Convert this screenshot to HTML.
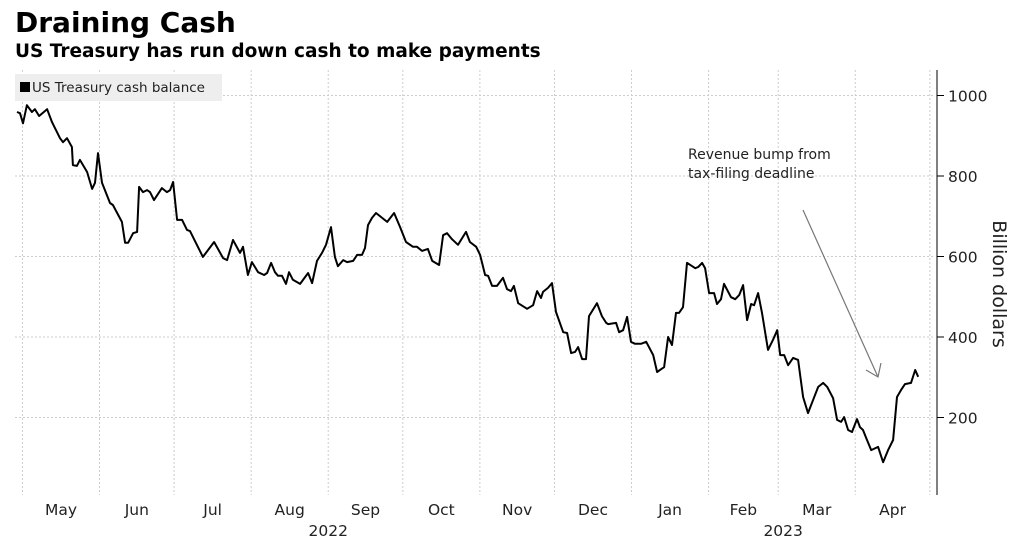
<!DOCTYPE html>
<html><head><meta charset="utf-8"><style>
body{margin:0;background:#fff;width:1024px;height:541px;overflow:hidden;font-family:"DejaVu Sans",sans-serif}
text{font-family:"DejaVu Sans",sans-serif}
</style></head><body>
<svg width="1024" height="541">
<text x="15" y="32" font-size="28" font-weight="bold" fill="#000">Draining Cash</text>
<text x="15" y="57" font-size="18.5" font-weight="bold" fill="#000">US Treasury has run down cash to make payments</text>
<g id="grid"></g>
<rect x="15" y="74" width="207" height="27" fill="#eeeeee"/>
<rect x="20" y="82" width="10" height="10" fill="#000"/>
<text x="32" y="92" font-size="13.5" fill="#222">US Treasury cash balance</text>
<g id="marks"></g>
<g id="axes"></g>
<text x="688" y="159" font-size="14" fill="#222">Revenue bump from</text>
<text x="688" y="178" font-size="14" fill="#222">tax-filing deadline</text>
<line x1="803" y1="210" x2="878" y2="377" stroke="#777" stroke-width="1.2"/>
<polyline points="866,370 878,377 881,363" fill="none" stroke="#777" stroke-width="1.2"/>
<text transform="translate(993,284) rotate(90)" font-size="19" text-anchor="middle" fill="#222">Billion dollars</text>
</svg>
<script>
const days=[-2.2,-1.0,0.2,1.8,3.8,5.0,6.7,9.9,11.9,15.1,16.3,17.9,19.9,20.3,21.9,23.1,26.0,28.0,29.2,30.4,32.0,35.2,36.4,40.0,41.3,42.5,44.5,46.1,46.9,48.5,50.1,51.3,52.9,56.1,58.1,59.4,60.6,62.2,64.2,66.2,67.4,72.6,77.1,80.7,82.3,84.7,87.5,88.7,90.7,92.3,94.8,97.2,98.4,100.0,101.6,102.8,104.4,106.0,107.2,108.8,111.7,114.9,116.5,118.5,120.5,122.1,124.1,125.7,126.9,129.0,130.6,133.0,134.6,136.6,137.8,139.0,140.6,142.2,146.7,149.5,151.9,154.3,157.1,158.7,160.7,163.1,164.8,167.6,169.2,170.8,172.8,175.2,178.4,180.0,182.5,184.1,186.1,187.3,188.9,190.9,193.3,194.9,196.5,197.7,199.4,203.0,205.4,207.0,208.6,209.4,211.4,213.0,214.6,217.5,219.1,220.7,222.3,223.5,225.1,226.7,227.9,231.1,233.1,234.8,235.6,238.8,240.0,241.6,243.2,244.8,246.4,248.8,250.9,253.7,255.3,256.9,258.1,259.7,261.3,262.9,264.1,265.7,267.3,269.4,270.6,271.8,273.4,274.6,276.2,278.2,279.4,281.0,282.2,285.0,286.7,288.3,289.9,291.5,293.1,294.3,295.9,297.5,299.9,301.9,303.6,304.8,306.4,308.0,310.0,312.0,314.0,316.0,318.0,320.1,322.1,323.7,326.1,327.7,329.3,330.5,332.1,333.7,335.7,336.9,338.1,339.7,341.4,344.2,346.2,348.2,350.2,351.8,353.4,355.0,357.4,359.1,360.3];
const values=[959,956,931,976,959,966,949,966,934,894,884,894,872,827,825,840,810,768,783,857,783,733,728,686,634,634,658,661,773,760,765,760,740,770,760,765,785,691,691,666,663,599,636,596,591,641,609,624,554,586,561,554,559,584,561,552,552,532,561,542,532,559,534,589,609,629,673,599,576,591,586,589,604,604,621,678,696,708,686,708,673,636,624,624,614,619,589,579,653,658,643,629,661,636,624,604,554,552,527,527,547,519,514,527,484,470,479,514,497,512,522,534,462,412,410,360,363,375,345,345,452,484,452,435,432,435,412,417,450,388,383,383,388,355,313,320,325,400,380,460,460,474,584,576,571,574,584,571,509,509,482,494,532,499,494,504,529,442,482,479,509,460,368,393,417,355,355,330,348,343,251,211,243,276,286,276,248,194,189,201,169,164,196,176,169,144,119,127,89,119,144,251,268,283,286,318,301,298];
const yTicks=[200,400,600,800,1000];
const monthLabels=["May","Jun","Jul","Aug","Sep","Oct","Nov","Dec","Jan","Feb","Mar","Apr"];
const monthStarts=[0,31,61,92,123,153,184,214,245,276,304,335,365];
const yearLabels=["2022","2023"];
const yearDays=[123,306];
const X=d=>15+(d+3)*2.486;
const Y=v=>498-v*0.4025;
const NS="http://www.w3.org/2000/svg";
function mk(parent,tag,attrs){const e=document.createElementNS(NS,tag);for(const k in attrs)e.setAttribute(k,attrs[k]);document.getElementById(parent).appendChild(e);return e;}
yTicks.forEach(v=>{
 const l=mk('grid','line',{x1:15,x2:935,y1:Y(v),y2:Y(v),stroke:'#ccc','stroke-dasharray':'2,2'});
 
 
 const t=mk('axes','line',{x1:937,x2:944,y1:Y(v),y2:Y(v),stroke:'#000'});
 
 
 const tx=mk('axes','text',{x:948,y:Y(v)+6,'font-size':15.5,fill:'#222'});
 tx.textContent=v;
 
 
});
monthStarts.forEach(d=>{
 const l=mk('grid','line',{x1:X(d),x2:X(d),y1:70,y2:495,stroke:'#ccc','stroke-dasharray':'2,2'});
 
 
});
monthLabels.forEach((m,i)=>{
 const t=mk('axes','text',{x:X((monthStarts[i]+monthStarts[i+1])/2),y:515,'font-size':15.5,'text-anchor':'middle',fill:'#222'});
 t.textContent=m;
 
 
});
yearLabels.forEach((y,i)=>{
 const t=mk('axes','text',{x:X(yearDays[i]),y:536,'font-size':15.5,'text-anchor':'middle',fill:'#222'});
 t.textContent=y;
 
 
});
const ax=mk('axes','line',{x1:937,x2:937,y1:70,y2:495,stroke:'#000'});


const pts=days.map((d,i)=>X(d).toFixed(1)+','+Y(values[i]).toFixed(1)).join(' ');
const pl=mk('marks','polyline',{points:pts,fill:'none',stroke:'#000','stroke-width':2,'stroke-linejoin':'round'});


</script>
</body></html>
